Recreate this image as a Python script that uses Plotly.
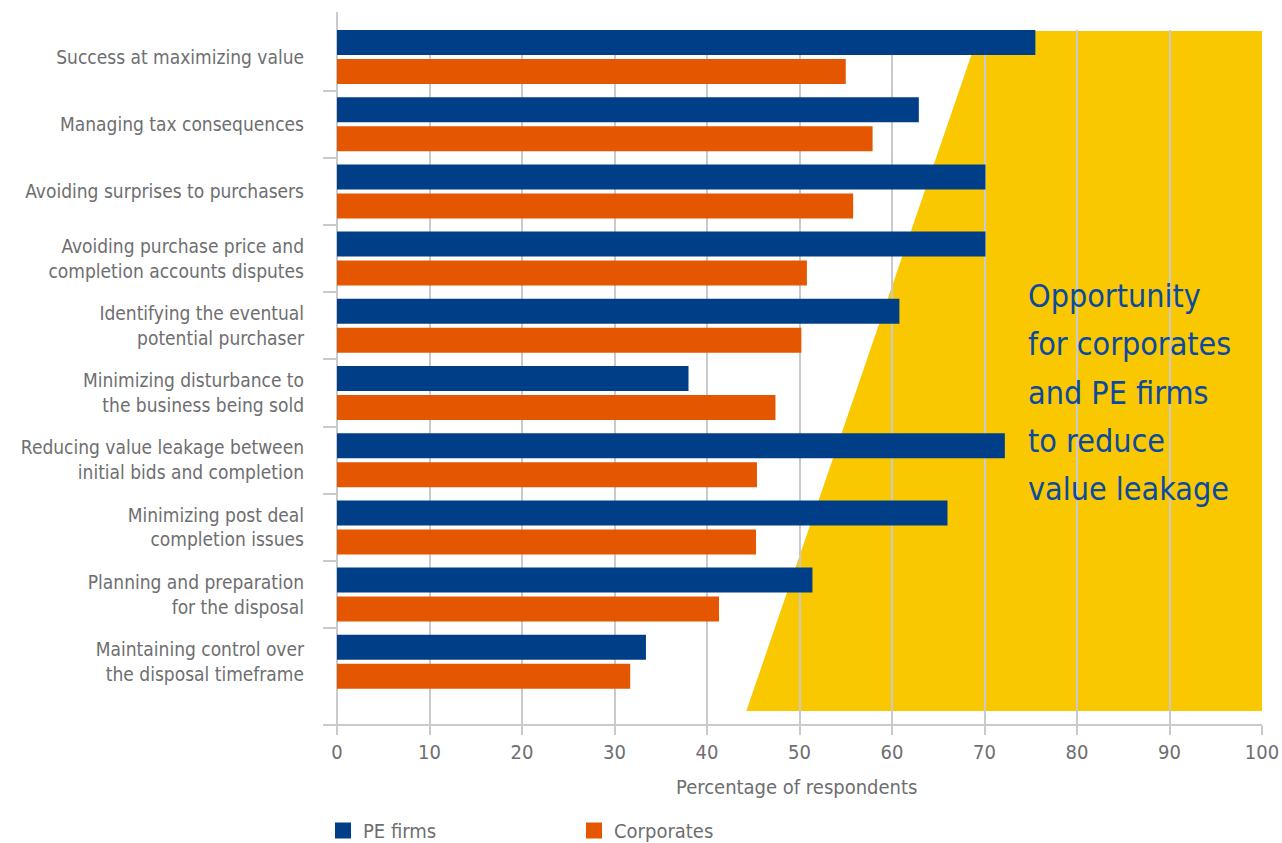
import plotly.graph_objects as go

categories = [
    "Success at maximizing value",
    "Managing tax consequences",
    "Avoiding surprises to purchasers",
    "Avoiding purchase price and<br>completion accounts disputes",
    "Identifying the eventual<br>potential purchaser",
    "Minimizing disturbance to<br>the business being sold",
    "Reducing value leakage between<br>initial bids and completion",
    "Minimizing post deal<br>completion issues",
    "Planning and preparation<br>for the disposal",
    "Maintaining control over<br>the disposal timeframe",
]
pe_firms = [75.5, 62.9, 70.1, 70.1, 60.8, 38.0, 72.2, 66.0, 51.4, 33.4]
corporates = [55.0, 57.9, 55.8, 50.8, 50.2, 47.4, 45.4, 45.3, 41.3, 31.7]
x_ticks = [0, 10, 20, 30, 40, 50, 60, 70, 80, 90, 100]
series_names = ["PE firms", "Corporates"]
callout_lines = ["Opportunity", "for corporates", "and PE firms", "to reduce", "value leakage"]
axis_title = "Percentage of respondents"

NAVY = "#003F88"
ORANGE = "#E55600"
YELLOW = "#FAC800"
GRID = "#C9CACC"
TXT = "#6E6E70"
FONT = "Liberation Sans Narrow, DejaVu Sans Condensed, Roboto Condensed, Roboto, sans-serif"

PLOT_TOP, PLOT_BOTTOM = 30, 724
PLOT_H = PLOT_BOTTOM - PLOT_TOP


def py(pixel_y):
    return (PLOT_BOTTOM - pixel_y) / PLOT_H


fig = go.Figure()
fig.add_trace(go.Bar(y=categories, x=pe_firms, orientation="h", name=series_names[0],
                     marker=dict(color=NAVY, line=dict(width=0)), showlegend=False))
fig.add_trace(go.Bar(y=categories, x=corporates, orientation="h", name=series_names[1],
                     marker=dict(color=ORANGE, line=dict(width=0)), showlegend=False))
for nm, col in zip(series_names, [NAVY, ORANGE]):
    fig.add_trace(go.Scatter(x=[None], y=[None], mode="markers", name=nm,
                             marker=dict(symbol="square", size=16, color=col)))

# yellow opportunity area
fig.add_shape(type="path", xref="x", yref="paper", layer="below",
              path=f"M 44.25,{py(711)} L 69.47,{py(31)} L 100,{py(31)} L 100,{py(711)} Z",
              fillcolor=YELLOW, line=dict(width=0))
# vertical axis line
fig.add_shape(type="line", xref="x", yref="paper", x0=0, x1=0, y0=0, y1=py(12),
              line=dict(color=GRID, width=2), layer="below")

for i, line in enumerate(callout_lines):
    fig.add_annotation(text=line, xref="x", yref="paper", x=74.5, y=py(296 + 48.3 * i),
                       xanchor="left", yanchor="middle", align="left", showarrow=False,
                       font=dict(family=FONT, size=32, color="#0B4A9E"))
fig.add_annotation(text=axis_title, xref="x", yref="paper", x=49.7, y=py(787),
                   xanchor="center", yanchor="middle", showarrow=False,
                   font=dict(family=FONT, size=20, color=TXT))

fig.update_layout(
    width=1282, height=843,
    margin=dict(l=323, r=20, t=PLOT_TOP, b=843 - PLOT_BOTTOM, autoexpand=False),
    paper_bgcolor="white", plot_bgcolor="white",
    barmode="group", bargap=0.137, bargroupgap=0.138,
    font=dict(family=FONT, size=19, color=TXT),
    legend=dict(orientation="h", x=0.0, y=py(811), xanchor="left", yanchor="top",
                entrywidth=206, entrywidthmode="pixels", itemsizing="trace",
                font=dict(family=FONT, size=20, color=TXT)),
    xaxis=dict(range=[-1.514, 100], tickvals=x_ticks, showgrid=True, gridcolor=GRID,
               gridwidth=2, zeroline=False, showline=True, linecolor=GRID, linewidth=2,
               ticks="outside", ticklen=9, tickwidth=2, tickcolor=GRID,
               tickfont=dict(size=20, color=TXT)),
    yaxis=dict(type="category", categoryorder="array", categoryarray=categories,
               range=[9.926, -0.402], ticks="inside", ticklen=14, tickwidth=2,
               tickcolor=GRID, tickson="boundaries", showgrid=False, showline=False,
               zeroline=False, ticklabelstandoff=18,
               tickfont=dict(size=19, color=TXT)),
)

fig.write_html("out.html")
